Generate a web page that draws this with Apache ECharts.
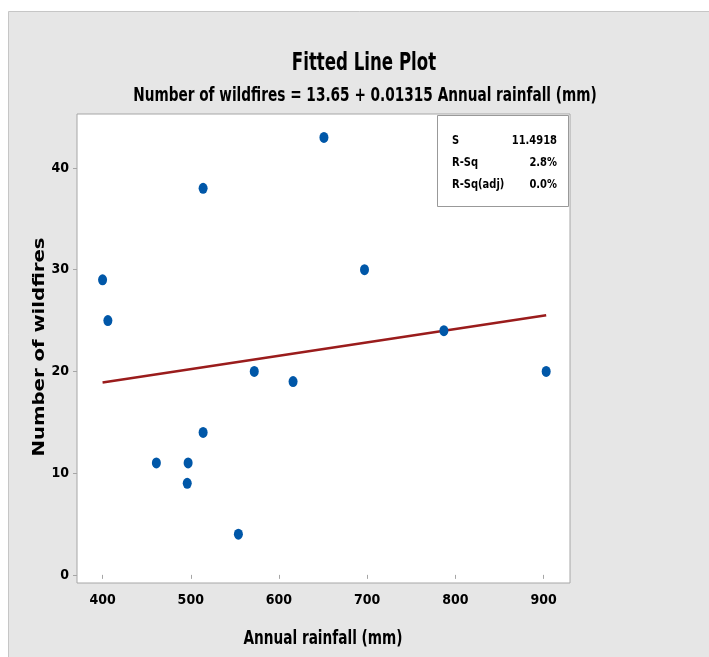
<!DOCTYPE html>
<html>
<head>
<meta charset="utf-8">
<script src="https://cdn.jsdelivr.net/npm/echarts@6/dist/echarts.min.js"></script>
<style>
  html, body { margin: 0; padding: 0; background: #fff; }
  #chart { width: 709px; height: 657px; }
</style>
</head>
<body>
<div id="chart"></div>
<script>
// rainfall (mm) vs number of wildfires
const rainfall = [400, 406, 514, 461, 497, 496, 514, 554, 572, 616, 651, 697, 787, 903];
const wildfires = [29, 25, 38, 11, 11, 9, 14, 4, 20, 19, 43, 30, 24, 20];
// fitted line end points (from the regression equation)
const fitX = [400, 903];
const fitY = [18.91, 25.52];
const xTicks = [400, 500, 600, 700, 800, 900];
const yTicks = [0, 10, 20, 30, 40];
const statNames = ['S', 'R-Sq', 'R-Sq(adj)'];
const statValues = ['11.4918', '2.8%', '0.0%'];

const narrow = "'Liberation Sans Narrow', 'DejaVu Sans Condensed', sans-serif";

const myChart = echarts.init(document.getElementById('chart'));

const points = rainfall.map((x, i) => [x, wildfires[i]]);
const fitLine = fitX.map((x, i) => [x, fitY[i]]);

// texts drawn squeezed, like the minitab condensed font
function squeezed(text, x, y, size, scale, align, family) {
    return {
        type: 'text', x: x, y: y, scaleX: scale, z: 20, silent: true,
        style: { text: text, font: 'bold ' + size + 'px ' + (family || narrow), fill: '#000',
                 align: align || 'center', verticalAlign: 'middle' }
    };
}

const yName = squeezed('Number of wildfires', 40, 347, 16, 1.23, 'center', "'DejaVu Sans', sans-serif");
yName.rotation = Math.PI / 2;

const graphics = [
    {
        type: 'rect', z: -10, silent: true,
        shape: { x: 8.5, y: 11.5, width: 710, height: 660 },
        style: { fill: '#e6e6e6', stroke: '#c6c6c6', lineWidth: 1 }
    },
    squeezed('Fitted Line Plot', 364, 64, 24, 0.77),
    squeezed('Number of wildfires = 13.65 + 0.01315 Annual rainfall (mm)', 365, 96, 19, 0.8),
    squeezed('Annual rainfall (mm)', 323, 639, 19, 0.8),
    yName,
    {
        type: 'rect', z: 10, silent: true,
        shape: { x: 437.5, y: 115.5, width: 131, height: 91 },
        style: { fill: '#fff', stroke: '#999', lineWidth: 1 }
    }
];
statNames.forEach((n, i) => {
    graphics.push(squeezed(n, 452, 141 + i * 22, 13, 0.85, 'left'));
    graphics.push(squeezed(statValues[i], 557, 141 + i * 22, 13, 0.85, 'right'));
});

const option = {
    animation: false,
    backgroundColor: '#fff',
    graphic: graphics,
    grid: {
        left: 77, top: 114, width: 493, height: 469,
        show: true, backgroundColor: '#fff', borderColor: '#a6a6a6', borderWidth: 1
    },
    xAxis: {
        type: 'value',
        min: 371, max: 930,
        axisLine: { show: false },
        splitLine: { show: false },
        axisTick: { show: true, length: 4, customValues: xTicks, lineStyle: { color: '#a6a6a6' } },
        axisLabel: { customValues: xTicks, margin: 10, fontFamily: narrow, fontWeight: 'bold', fontSize: 14, color: '#000' }
    },
    yAxis: {
        type: 'value',
        min: -0.8, max: 45.3,
        axisLine: { show: false },
        splitLine: { show: false },
        axisTick: { show: true, length: 4, customValues: yTicks, lineStyle: { color: '#a6a6a6' } },
        axisLabel: { customValues: yTicks, margin: 8, fontFamily: narrow, fontWeight: 'bold', fontSize: 14, color: '#000' }
    },
    series: [
        {
            type: 'line',
            data: fitLine,
            symbol: 'none',
            lineStyle: { color: '#9a1c1c', width: 2.5 },
            z: 2
        },
        {
            type: 'scatter',
            data: points,
            symbol: 'circle',
            symbolSize: [9, 11],
            itemStyle: { color: '#0057a8', opacity: 1 },
            z: 3
        }
    ]
};
myChart.setOption(option);
window.addEventListener('resize', function () {
    myChart.resize();
});
</script>
</body>
</html>
